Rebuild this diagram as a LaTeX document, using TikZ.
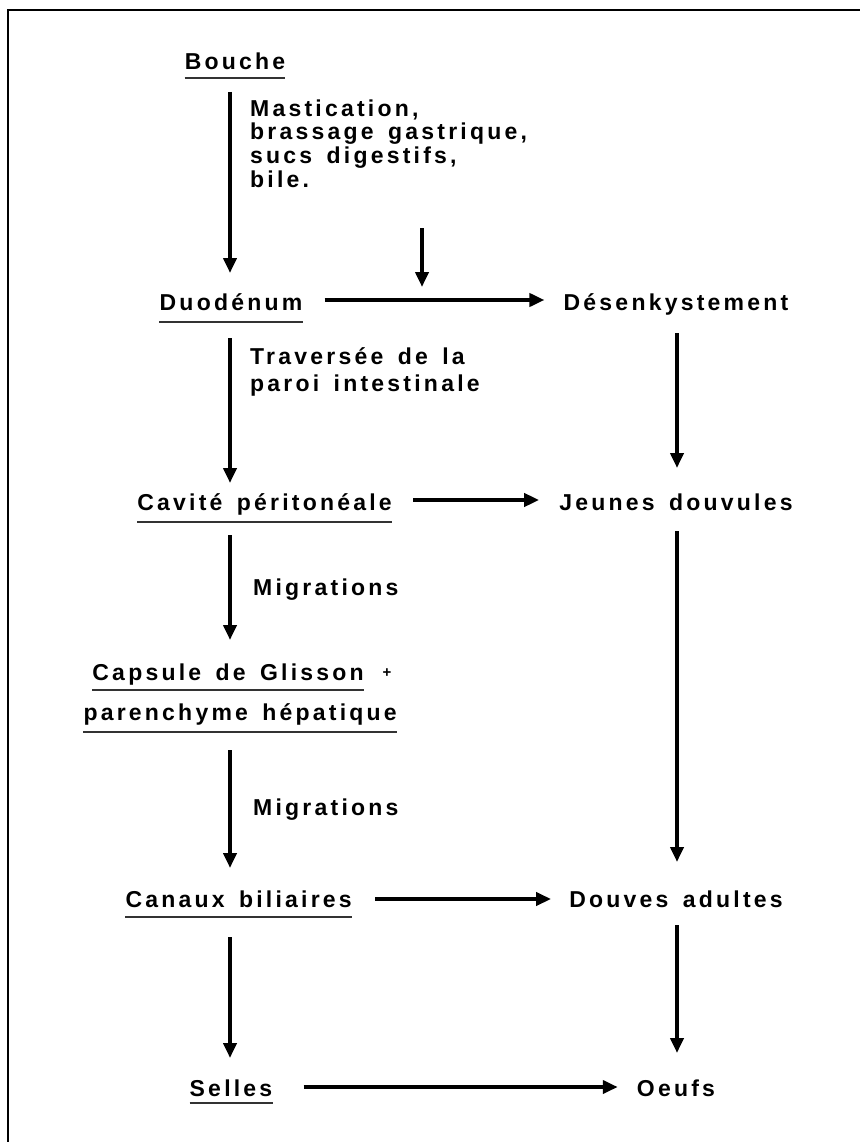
\documentclass[tikz,border=0pt]{standalone}
\usepackage{fontspec}
\newfontfamily\tfont[LetterSpace=14, WordSpace=1.5]{Liberation Sans}
\usetikzlibrary{arrows.meta}
\begin{document}
\begin{tikzpicture}[x=1pt,y=-1pt,
  lbl/.style={inner sep=0pt, font=\tfont\bfseries\fontsize{23}{23}\selectfont},
  plusfont/.style={inner sep=0pt, font=\tfont\bfseries\fontsize{15}{15}\selectfont},
  arr/.style={line width=3.8pt, -{Triangle[length=15pt,width=13pt]}},
  ul/.style={line width=1.1pt, black!80},
  frame/.style={line width=2.8pt, line join=miter}]
\useasboundingbox (0,0) rectangle (860,1142);
\fill[white] (0,0) rectangle (860,1142);
\draw[frame] (8,1142) -- (8,10) -- (860,10);
\coordinate (xl) at (230,0);
\coordinate (xr) at (677,0);
% main nodes
\node[lbl, anchor=base] (bouche) at (235,70) {Bouche};
\node[lbl, anchor=base] (duo) at (231,310) {Duodénum};
\node[lbl, anchor=base] (des) at (676,310) {Désenkystement};
\node[lbl, anchor=base east] (cav) at (392,510) {Cavité péritonéale};
\node[lbl, anchor=base] (jeu) at (676,510) {Jeunes douvules};
\node[lbl, anchor=base east] (cap) at (364,680) {Capsule de Glisson};
\node[plusfont] (plus) at (387,673) {+};
\node[lbl, anchor=base east] (par) at (397,720) {parenchyme hépatique};
\node[lbl, anchor=base east] (can) at (352,907) {Canaux biliaires};
\node[lbl, anchor=base] (dou) at (676,907) {Douves adultes};
\node[lbl, anchor=base] (sel) at (231,1096) {Selles};
\node[lbl, anchor=base] (oeu) at (676,1096) {Oeufs};
% labels
\node[lbl, anchor=base west] (m1) at (250,117) {Mastication,};
\node[lbl, anchor=base west] (m2) at (250,140) {brassage gastrique,};
\node[lbl, anchor=base west] (m3) at (250,164) {sucs digestifs,};
\node[lbl, anchor=base west] (m4) at (250,187) {bile.};
\node[lbl, anchor=base west] (t1) at (250,364) {Traversée de la};
\node[lbl, anchor=base west] (t2) at (250,391) {paroi intestinale};
\node[lbl, anchor=base west] (mig1) at (253,595) {Migrations};
\node[lbl, anchor=base west] (mig2) at (253,815) {Migrations};
% underlines
\draw[ul] ([yshift=-8pt]bouche.base west) -- ([yshift=-8pt]bouche.base east);
\draw[ul] ([yshift=-12pt]duo.base west) -- ([yshift=-12pt]duo.base east);
\draw[ul] ([yshift=-12pt]cav.base west) -- ([yshift=-12pt]cav.base east);
\draw[ul] ([yshift=-10pt]cap.base west) -- ([yshift=-10pt]cap.base east);
\draw[ul] ([yshift=-12pt]par.base west) -- ([yshift=-12pt]par.base east);
\draw[ul] ([yshift=-10pt]can.base west) -- ([yshift=-10pt]can.base east);
\draw[ul] ([yshift=-7pt]sel.base west) -- ([yshift=-7pt]sel.base east);
% vertical arrows, left
\draw[arr, shorten <=22pt, shorten >=37pt] (bouche.base -| xl) -- (duo.base -| xl);
\draw[arr, shorten <=28pt, shorten >=27pt] (duo.base -| xl) -- (cav.base -| xl);
\draw[arr, shorten <=25pt, shorten >=40pt] (cav.base -| xl) -- (cap.base -| xl);
\draw[arr, shorten <=30pt, shorten >=39pt] (par.base -| xl) -- (can.base -| xl);
\draw[arr, shorten <=30pt, shorten >=38pt] (can.base -| xl) -- (sel.base -| xl);
% vertical arrows, right
\draw[arr, shorten <=23pt, shorten >=42pt] (des.base -| xr) -- (jeu.base -| xr);
\draw[arr, shorten <=21pt, shorten >=45pt] (jeu.base -| xr) -- (dou.base -| xr);
\draw[arr, shorten <=18pt, shorten >=43pt] (dou.base -| xr) -- (oeu.base -| xr);
% horizontal arrows
\draw[arr, shorten <=22pt, shorten >=19pt] ([yshift=10pt]duo.base east) -- ([yshift=10pt]des.base west);
\draw[arr, shorten <=21pt, shorten >=20pt] ([yshift=10pt]cav.base east) -- ([yshift=10pt]jeu.base west);
\draw[arr, shorten <=23pt, shorten >=18pt] ([yshift=8pt]can.base east) -- ([yshift=8pt]dou.base west);
\draw[arr, shorten <=31pt, shorten >=19pt] ([yshift=9pt]sel.base east) -- ([yshift=9pt]oeu.base west);
% small arrow onto the Duodenum arrow
\coordinate (bs) at (422,228);
\coordinate (be) at (422,287);
\draw[arr] (bs) -- (be);
\end{tikzpicture}
\end{document}
